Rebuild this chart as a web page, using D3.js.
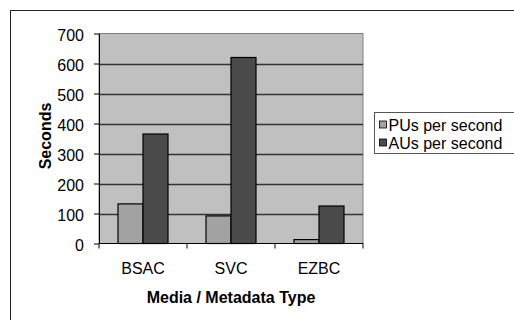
<!DOCTYPE html>
<html>
<head>
<meta charset="utf-8">
<script src="https://cdn.jsdelivr.net/npm/d3@7"></script>
<style>
  html, body { margin: 0; padding: 0; background: #fff; overflow: hidden; }
  svg { display: block; font-family: Arial, "Liberation Sans", sans-serif; }
</style>
</head>
<body>
<svg id="chart" width="514" height="320"></svg>
<script>
// Processing rates per media / metadata type
const categories = ["BSAC", "SVC", "EZBC"];
const seriesNames = ["PUs per second", "AUs per second"];
const puPerSecond = [132, 92, 13];
const auPerSecond = [365, 620, 125];
const yTicks = [0, 100, 200, 300, 400, 500, 600, 700];
const seriesColors = ["#a3a3a3", "#4b4b4b"];

const rows = categories.map((c, i) => ({ cat: c, values: [puPerSecond[i], auPerSecond[i]] }));

const svg = d3.select("#chart");
const W = 514, H = 320;
const plot = { left: 99, right: 363, top: 33.5, bottom: 243.5 };

// outer chart frame (extends past the window on the right and bottom)
svg.append("rect")
  .attr("x", 10.5).attr("y", 10.5)
  .attr("width", W + 20).attr("height", H + 20)
  .attr("fill", "#fff").attr("stroke", "#222").attr("stroke-width", 1);

const y = d3.scaleLinear().domain([0, 700]).range([plot.bottom, plot.top]);
const x = d3.scaleBand().domain(categories)
  .range([plot.left, plot.right])
  .paddingInner(0.432).paddingOuter(0.216);
const xs = d3.scaleBand().domain(d3.range(seriesNames.length)).range([0, x.bandwidth()]);

// plot area
svg.append("rect")
  .attr("x", plot.left).attr("y", plot.top)
  .attr("width", plot.right - plot.left).attr("height", plot.bottom - plot.top)
  .attr("fill", "#c0c0c0").attr("stroke", "#808080").attr("stroke-width", 1);

// gridlines
svg.append("g").selectAll("line")
  .data(yTicks.filter(t => t > 0 && t < 700))
  .join("line")
  .attr("x1", plot.left).attr("x2", plot.right)
  .attr("y1", d => Math.round(y(d)) + 0.5).attr("y2", d => Math.round(y(d)) + 0.5)
  .attr("stroke", "#333").attr("stroke-width", 1.3);

// bars
const groups = svg.append("g").selectAll("g")
  .data(rows).join("g")
  .attr("transform", d => `translate(${x(d.cat)},0)`);
groups.selectAll("rect")
  .data(d => d.values.map((v, k) => ({ v, k })))
  .join("rect")
  .attr("x", d => xs(d.k))
  .attr("y", d => y(d.v))
  .attr("width", xs.bandwidth())
  .attr("height", d => y(0) - y(d.v))
  .attr("fill", d => seriesColors[d.k])
  .attr("stroke", "#000").attr("stroke-width", 1.2);

// y axis
const yAxis = d3.axisLeft(y).tickValues(yTicks).tickSize(5).tickPadding(10).tickSizeOuter(0);
const gy = svg.append("g").attr("transform", `translate(${plot.left},0)`).call(yAxis);
gy.select(".domain").attr("stroke", "#000");
gy.selectAll(".tick line").attr("stroke", "#000");
gy.selectAll("text").attr("font-size", 16).attr("fill", "#000").attr("dy", "0.45em")
  .attr("font-family", "Arial, 'Liberation Sans', sans-serif");

// x axis: ticks at category boundaries
const boundaries = d3.range(categories.length + 1).map(i => plot.left + i * x.step());
const gx = svg.append("g");
gx.append("line")
  .attr("x1", plot.left).attr("x2", plot.right)
  .attr("y1", plot.bottom).attr("y2", plot.bottom)
  .attr("stroke", "#000");
gx.selectAll("line.tk").data(boundaries).join("line")
  .attr("class", "tk")
  .attr("x1", d => d).attr("x2", d => d)
  .attr("y1", plot.bottom).attr("y2", plot.bottom + 5)
  .attr("stroke", "#000");
gx.selectAll("text").data(categories).join("text")
  .attr("x", d => x(d) + x.bandwidth() / 2)
  .attr("y", 274)
  .attr("text-anchor", "middle")
  .attr("font-size", 16)
  .text(d => d);

// axis titles
svg.append("text")
  .attr("x", (plot.left + plot.right) / 2).attr("y", 303)
  .attr("text-anchor", "middle")
  .attr("font-size", 16).attr("font-weight", "bold")
  .text("Media / Metadata Type");
svg.append("text")
  .attr("transform", `translate(51,136) rotate(-90)`)
  .attr("text-anchor", "middle")
  .attr("font-size", 16).attr("font-weight", "bold")
  .text("Seconds");

// legend
const lg = svg.append("g").attr("transform", "translate(374.5,112.5)");
lg.append("rect")
  .attr("width", 160).attr("height", 41)
  .attr("fill", "#fff").attr("stroke", "#555");
const items = lg.selectAll("g").data(seriesNames).join("g")
  .attr("transform", (d, i) => `translate(0,${12.5 + i * 18})`);
items.append("rect")
  .attr("x", 5).attr("y", -4)
  .attr("width", 7).attr("height", 7)
  .attr("fill", (d, i) => seriesColors[i]).attr("stroke", "#000").attr("stroke-width", 0.8);
items.append("text")
  .attr("x", 14).attr("y", 0).attr("dy", "0.36em")
  .attr("font-size", 16)
  .text(d => d);
</script>
</body>
</html>
